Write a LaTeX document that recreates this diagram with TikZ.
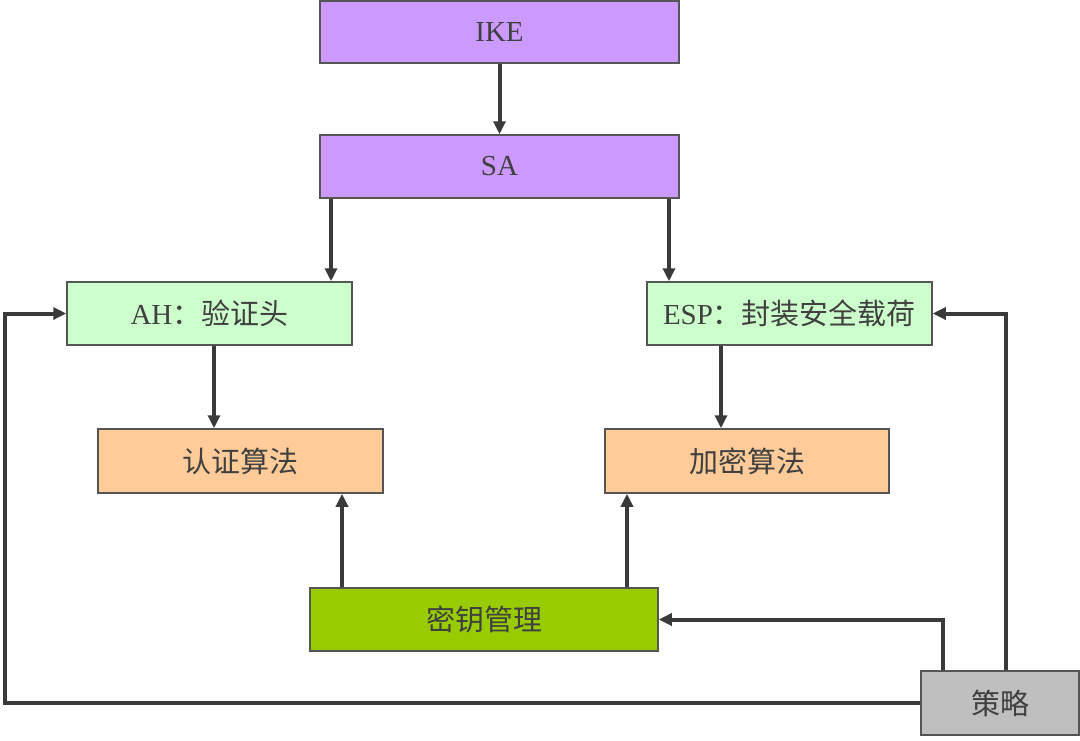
\documentclass[tikz,border=0pt]{standalone}
\usepackage{fontspec}
\setmainfont{Liberation Serif}
\newfontfamily\cjk{Noto Sans CJK SC}
\usetikzlibrary{arrows.meta}
\definecolor{purp}{HTML}{CC99FF}
\definecolor{lgreen}{HTML}{CCFFCC}
\definecolor{lorange}{HTML}{FFCC99}
\definecolor{kgreen}{HTML}{99CC00}
\definecolor{lgray}{HTML}{BFBFBF}
\definecolor{edge}{HTML}{555555}
\definecolor{txt}{HTML}{404040}
\definecolor{arrc}{HTML}{3A3A3A}
\begin{document}
\begin{tikzpicture}[x=1pt,y=-1pt,
  box/.style={draw=edge,line width=1.5pt,rectangle,inner sep=0pt,text=txt,font=\fontsize{29}{32}\selectfont},
  arr/.style={draw=arrc,line width=4pt,line join=miter,-{Triangle[length=13pt,width=12pt]}},
  ln/.style={draw=arrc,line width=4pt,line join=miter}]
\useasboundingbox (0,0) rectangle (1080,740);
\node[box,fill=purp,minimum width=359pt,minimum height=62pt] (IKE) at (499.5,32) {IKE};
\node[box,fill=purp,minimum width=359pt,minimum height=63pt] (SA) at (499.5,166.5) {SA};
\node[box,fill=lgreen,minimum width=285pt,minimum height=63pt] (AH) at (209.5,313.5) {AH{\cjk ：验证头}};
\node[box,fill=lgreen,minimum width=285pt,minimum height=63pt] (ESP) at (789.5,313.5) {ESP{\cjk ：封装安全载荷}};
\node[box,fill=lorange,minimum width=285pt,minimum height=64pt] (RZ) at (240.5,461) {\cjk 认证算法};
\node[box,fill=lorange,minimum width=284pt,minimum height=64pt] (JM) at (747,461) {\cjk 加密算法};
\node[box,fill=kgreen,minimum width=348pt,minimum height=63pt] (KM) at (484,619.5) {\cjk 密钥管理};
\node[box,fill=lgray,minimum width=158pt,minimum height=64pt] (CL) at (1000,703) {\cjk 策略};
\draw[arr] (IKE.south) -- (SA.north);
\draw[arr] (331,0 |- SA.south) -- (331,0 |- AH.north);
\draw[arr] (669,0 |- SA.south) -- (669,0 |- ESP.north);
\draw[arr] (214,0 |- AH.south) -- (214,0 |- RZ.north);
\draw[arr] (721,0 |- ESP.south) -- (721,0 |- JM.north);
\draw[arr] (342,0 |- KM.north) -- (342,0 |- RZ.south);
\draw[arr] (627,0 |- KM.north) -- (627,0 |- JM.south);
\coordinate (c1) at (943,0 |- CL.north);
\coordinate (c2) at (1006,0 |- CL.north);
\coordinate (c3) at (5,0 |- CL.west);
\draw[arr] (c1) |- (KM.east);
\draw[arr] (c2) |- (ESP.east);
\draw[arr] (CL.west) -- (c3) |- (AH.west);
\end{tikzpicture}
\end{document}
